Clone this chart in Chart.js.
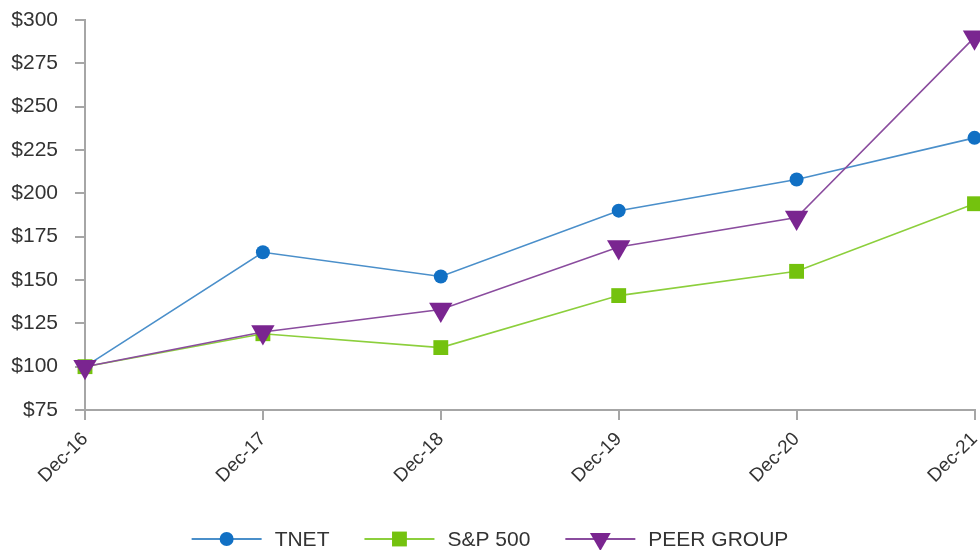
<!DOCTYPE html>
<html>
<head>
<meta charset="utf-8">
<script src="https://cdn.jsdelivr.net/npm/chart.js@4"></script>
<style>
  html, body { margin: 0; padding: 0; background: #fff; overflow: hidden; }
  #wrap { width: 988px; height: 550px; }
</style>
</head>
<body>
<div id="wrap"><canvas id="grafico"></canvas></div>
<script>
const anos = ['Dec-16', 'Dec-17', 'Dec-18', 'Dec-19', 'Dec-20', 'Dec-21'];
const tnet = [100, 166, 152, 190, 208, 232];
const sp500 = [100, 119, 111, 141, 155, 194];
const peerGroup = [100, 120, 133, 169, 186, 290];
const eixoY = { min: 75, max: 300, passo: 25 };

const corTexto = '#333333';
const corEixo = '#a6a6a6';
const fonte = 'Liberation Sans, Arial, sans-serif';

const series = [
  { label: 'TNET', data: tnet, linha: '#4a8fca', ponto: '#1170c4', estilo: 'circle', raio: 7, rot: 0, ordem: 2 },
  { label: 'S&P 500', data: sp500, linha: '#8ccf3c', ponto: '#74c20e', estilo: 'rect', raio: 10.5, rot: 0, ordem: 1 },
  { label: 'PEER GROUP', data: peerGroup, linha: '#8a4c9e', ponto: '#7a2590', estilo: 'triangle', raio: 13.5, rot: 180, ordem: 0 }
];

// legenda desenhada à mão: linha + marcador + texto, centrada embaixo
const legendaLinhas = {
  id: 'legendaLinhas',
  afterDraw(chart) {
    const g = chart.ctx;
    const y = 539;
    const linha = 70, espacoTexto = 13, espacoItem = 35;
    g.save();
    g.font = '21px ' + fonte;
    const larguras = series.map(s => g.measureText(s.label).width);
    let total = 0;
    larguras.forEach((w, i) => { total += linha + espacoTexto + w + (i < series.length - 1 ? espacoItem : 0); });
    let x = 490 - total / 2;
    series.forEach((s, i) => {
      g.strokeStyle = s.linha;
      g.lineWidth = 2;
      g.beginPath(); g.moveTo(x, y); g.lineTo(x + linha, y); g.stroke();
      g.fillStyle = s.ponto;
      const r = s.estilo === 'triangle' ? 12 : (s.estilo === 'rect' ? 10.5 : 7);
      Chart.helpers.drawPoint(g, { pointStyle: s.estilo, radius: r, rotation: s.rot, borderWidth: 0 }, x + linha / 2, y);
      g.fillStyle = corTexto;
      g.textBaseline = 'middle';
      g.textAlign = 'left';
      g.fillText(s.label, x + linha + espacoTexto, y + 1);
      x += linha + espacoTexto + larguras[i] + espacoItem;
    });
    g.restore();
  }
};

const ctx = document.getElementById('grafico').getContext('2d');
new Chart(ctx, {
  type: 'line',
  data: {
    labels: anos,
    datasets: series.map(s => ({
      label: s.label,
      data: s.data,
      borderColor: s.linha,
      borderWidth: 1.6,
      backgroundColor: s.ponto,
      pointBackgroundColor: s.ponto,
      pointBorderWidth: 0,
      pointStyle: s.estilo,
      pointRadius: s.raio,
      pointRotation: s.rot,
      tension: 0,
      fill: false,
      clip: false,
      order: s.ordem
    }))
  },
  options: {
    responsive: true,
    maintainAspectRatio: false,
    animation: false,
    layout: { padding: { top: 20, right: 5, left: 0, bottom: 40 } },
    scales: {
      x: {
        offset: false,
        grid: { drawOnChartArea: false, drawTicks: true, tickLength: 10, color: corEixo, lineWidth: 2 },
        border: { color: corEixo, width: 2 },
        ticks: { color: corTexto, font: { family: fonte, size: 19 }, minRotation: 45, maxRotation: 45, padding: 8 },
        afterFit: s => { s.height = 100; s.paddingRight = 0; s.paddingLeft = 0; }
      },
      y: {
        min: eixoY.min,
        max: eixoY.max,
        grid: { drawOnChartArea: false, drawTicks: true, tickLength: 10, color: corEixo, lineWidth: 2 },
        border: { color: corEixo, width: 2 },
        ticks: {
          stepSize: eixoY.passo,
          color: corTexto,
          font: { family: fonte, size: 21 },
          padding: 17,
          callback: v => '$' + v
        },
        afterFit: s => { s.width = 85; s.paddingTop = 0; s.paddingBottom = 0; }
      }
    },
    plugins: {
      legend: { display: false },
      tooltip: { enabled: false }
    }
  },
  plugins: [legendaLinhas]
});
</script>
</body>
</html>
